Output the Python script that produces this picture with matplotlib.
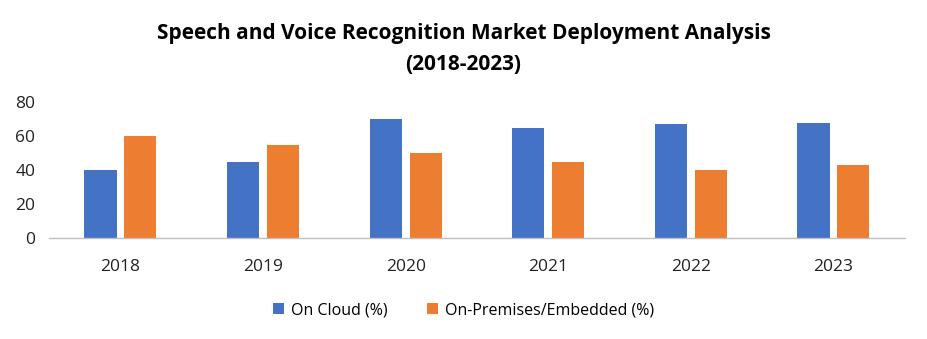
import matplotlib
matplotlib.use("Agg")
import matplotlib.pyplot as plt
import numpy as np

years = ["2018", "2019", "2020", "2021", "2022", "2023"]
on_cloud = [40, 45, 70, 65, 67, 68]
on_premises = [60, 55, 50, 45, 40, 43]
series_names = ["On Cloud (%)", "On-Premises/Embedded (%)"]

plt.rcParams['font.family'] = ['Open Sans', 'DejaVu Sans']

fig = plt.figure(figsize=(9.27, 3.39), dpi=100)
ax = fig.add_axes([0.053, 0.298, 0.923, 0.40])

x = np.arange(len(years))
w = 0.225
ax.bar(x - 0.14, on_cloud, w, color="#4472C4", label=series_names[0])
ax.bar(x + 0.14, on_premises, w, color="#ED7D31", label=series_names[1])

ax.set_xlim(-0.5, len(years) - 0.5)
ax.set_ylim(0, 80)
ax.set_yticks([0, 20, 40, 60, 80])
ax.set_xticks(x)
ax.set_xticklabels(years)
ax.tick_params(axis='both', length=0, labelsize=12.5, colors="#222222")
ax.tick_params(axis='x', pad=15)
ax.tick_params(axis='y', pad=10)
for s in ["top", "right", "left"]:
    ax.spines[s].set_visible(False)
ax.spines["bottom"].set_color("#BFBFBF")
ax.spines["bottom"].set_linewidth(1)

fig.text(0.5, 0.855, "Speech and Voice Recognition Market Deployment Analysis\n(2018-2023)",
         ha="center", va="center", fontsize=15, fontweight="bold", linespacing=1.6)

fig.legend(loc="center", bbox_to_anchor=(0.5, 0.085), ncol=2, frameon=False,
           fontsize=11.5, handlelength=0.7, handleheight=0.7, columnspacing=2.5,
           handletextpad=0.4)

fig.savefig("out.png", dpi=100)
